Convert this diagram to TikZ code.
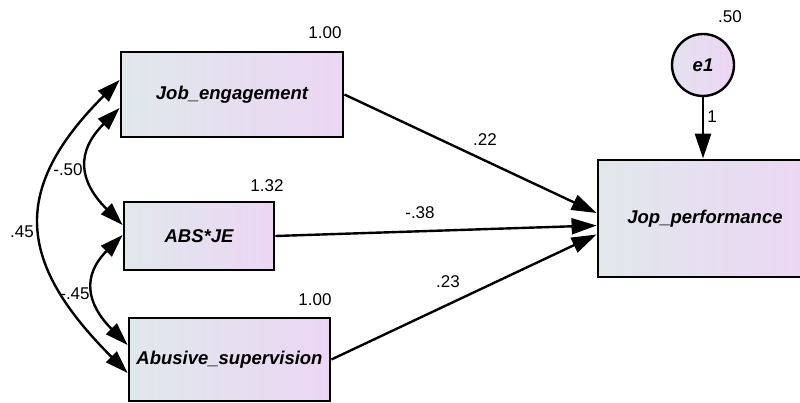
\documentclass[tikz,border=0pt]{standalone}
\usepackage{fontspec}
\setmainfont{Liberation Sans}
\usetikzlibrary{arrows.meta}
\definecolor{fillL}{RGB}{224,232,236}
\definecolor{fillR}{RGB}{236,214,244}
\begin{document}
\begin{tikzpicture}[x=1pt,y=-1pt,
  var/.style={draw=black, line width=2.8pt, left color=fillL, right color=fillR,
    inner sep=0pt, font=\fontsize{18.5}{21}\selectfont\bfseries\itshape},
  errvar/.style={circle, draw=black, line width=2.4pt, left color=fillL!60!fillR, right color=fillR,
    inner sep=0pt, minimum size=62pt, font=\fontsize{18.5}{21}\selectfont\bfseries\itshape},
  num/.style={font=\fontsize{17}{19}\selectfont, inner sep=0pt},
  regpath/.style={line width=2.4pt, -{Triangle[length=25pt,width=16pt]}},
  covpath/.style={line width=2.4pt,
    {Triangle[length=23pt,width=15pt]}-{Triangle[length=23pt,width=15pt]}}]
\useasboundingbox (0,0) rectangle (800,403);
\clip (0,0) rectangle (800,403);

% observed variables
\node[var, minimum width=222pt, minimum height=85pt] (je) at (232,94.5) {Job\_engagement};
\node[var, minimum width=150pt, minimum height=68pt] (abj) at (199,236) {ABS*JE};
\node[var, minimum width=201pt, minimum height=83pt] (abs) at (229.5,359.5) {Abusive\_supervision};
\node[var, minimum width=214pt, minimum height=117pt] (jp) at (705,218.5) {Jop\_performance};
\node[errvar] (e1) at (703,65) {e1};

% variances
\node[num] (vje) at (325,33) {1.00};
\node[num] (vabj) at (267,186) {1.32};
\node[num] (vabs) at (315,300) {1.00};
\node[num] (ve1) at (730,17) {.50};

% regression paths
\draw[regpath] (je.east) -- ([yshift=5.5pt]jp.west);
\draw[regpath] (abj.east) -- ([yshift=-7pt]jp.west);
\draw[regpath] (abs.east) -- ([yshift=-16pt]jp.west);
\draw[regpath] (e1.south) -- (e1 |- jp.north);

\node[num] (w1) at (485,140) {.22};
\node[num] (w2) at (420,213) {-.38};
\node[num] (w3) at (448,282) {.23};
\node[num] (w4) at (712,117) {1};

% covariances
\draw[covpath] ([yshift=14.5pt]je.west) .. controls +(-110,110) and +(-110,-110) .. ([yshift=-13.5pt]abs.west);
\draw[covpath] ([yshift=-13.5pt]je.west) .. controls +(-44,44) and +(-44,-44) .. ([yshift=11pt]abj.west);
\draw[covpath] ([yshift=1pt]abj.west) .. controls +(-41,41) and +(-41,-41) .. ([yshift=14.5pt]abs.west);

\node[num] (c1) at (68,170) {-.50};
\node[num] (c2) at (22,232) {.45};
\node[num] (c3) at (75,294) {-.45};
\end{tikzpicture}
\end{document}
